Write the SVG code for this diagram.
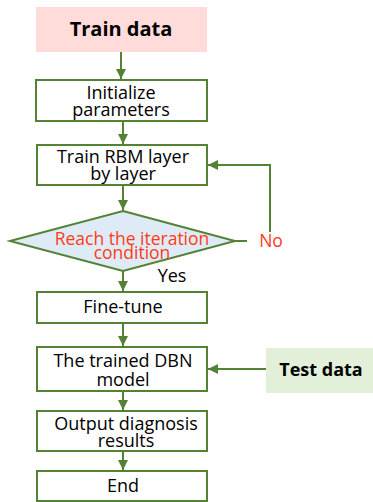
<svg xmlns="http://www.w3.org/2000/svg" width="373" height="502" viewBox="0 0 373 502">
<defs>
<marker id="ah" viewBox="0 0 10 10" refX="10" refY="5" markerWidth="10" markerHeight="10" markerUnits="userSpaceOnUse" orient="auto">
<path d="M0,0 L10,5 L0,10 z" fill="#548235"/>
</marker>
<style>
.box{fill:#fff;stroke:#548235;stroke-width:2}
.t{font-family:"Open Sans","Noto Sans",sans-serif;font-size:18px;fill:#000;text-anchor:middle}
.b{font-family:"Open Sans","Noto Sans",sans-serif;font-weight:bold;fill:#000;text-anchor:middle}
.r{font-family:"Open Sans","Noto Sans",sans-serif;font-size:17.5px;fill:#FF3B14;text-anchor:middle}
.c{fill:none;stroke:#548235;stroke-width:2}
</style>
</defs>
<rect width="373" height="502" fill="#fff"/>
<g id="train">
<rect x="36" y="7" width="171" height="45" fill="#FFDCD9"/>
<text class="b" x="121" y="36" font-size="20">Train data</text>
</g>
<g id="init">
<rect class="box" x="36" y="80" width="171" height="41"/>
<text class="t" x="121" y="99">Initialize</text>
<text class="t" x="121" y="116">parameters</text>
</g>
<g id="rbm">
<rect class="box" x="37" y="145" width="170" height="40"/>
<text class="t" x="123" y="163">Train RBM layer</text>
<text class="t" x="123" y="180">by layer</text>
</g>
<g id="cond">
<polygon points="123,211 235,241 123,271 10,241" fill="#DEEBF7" stroke="#548235" stroke-width="2"/>
<text class="r" x="132" y="245">Reach the iteration</text>
<text class="r" x="132" y="259">condition</text>
</g>
<g id="fine">
<rect class="box" x="37" y="292" width="170" height="31"/>
<text class="t" x="123" y="313">Fine-tune</text>
</g>
<g id="dbn">
<rect class="box" x="37" y="347" width="170" height="44"/>
<text class="t" x="123" y="367">The trained DBN</text>
<text class="t" x="123" y="386">model</text>
</g>
<g id="test">
<rect x="266" y="348" width="107" height="45" fill="#E2EFD9"/>
<text class="b" x="321" y="376" font-size="18">Test data</text>
</g>
<g id="out">
<rect class="box" x="37" y="411" width="170" height="40"/>
<text class="t" x="126" y="430">Output diagnosis</text>
<text class="t" x="126" y="447">results</text>
</g>
<g id="end">
<rect class="box" x="37" y="471" width="170" height="30"/>
<text class="t" x="123" y="492" font-size="19">End</text>
</g>
<g id="connectors">
<line class="c" x1="121" y1="52" x2="121" y2="79" marker-end="url(#ah)"/>
<line class="c" x1="123" y1="121" x2="123" y2="144" marker-end="url(#ah)"/>
<line class="c" x1="123" y1="185" x2="123" y2="210" marker-end="url(#ah)"/>
<polyline class="c" points="235,241 247,241"/>
<polyline class="c" points="270,232 270,165 208,165" marker-end="url(#ah)"/>
<line class="c" x1="123" y1="271" x2="123" y2="291" marker-end="url(#ah)"/>
<line class="c" x1="123" y1="323" x2="123" y2="346" marker-end="url(#ah)"/>
<line class="c" x1="266" y1="369" x2="208" y2="369" marker-end="url(#ah)"/>
<line class="c" x1="123" y1="391" x2="123" y2="410" marker-end="url(#ah)"/>
<line class="c" x1="123" y1="451" x2="123" y2="470" marker-end="url(#ah)"/>
</g>
<text class="r" x="271" y="247" font-size="19">No</text>
<text class="t" x="172" y="282">Yes</text>
</svg>
